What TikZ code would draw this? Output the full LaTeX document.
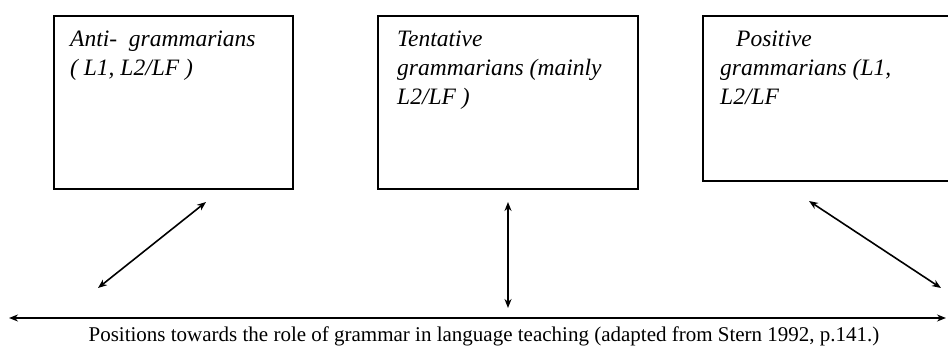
\documentclass[tikz,border=0pt]{standalone}
\usepackage{fontspec}
\setmainfont{Liberation Serif}
\usetikzlibrary{arrows.meta}

\tikzset{
  panel/.style={draw,line width=1.6pt,inner sep=0pt,anchor=north west},
  paneltext/.style={anchor=north west,align=left,inner sep=0pt,
    font=\fontsize{23.5}{29}\selectfont\itshape},
  link/.style={line width=1.6pt,{Stealth[length=9pt,width=7pt]}-{Stealth[length=9pt,width=7pt]}}
}

\begin{document}
\begin{tikzpicture}[x=1pt,y=-1pt]
\useasboundingbox (0,0) rectangle (948,347);
% the three boxes
\node[panel,minimum width=239pt,minimum height=173pt] (anti) at (53,15) {};
\node[panel,minimum width=260pt,minimum height=173pt] (tent) at (377,15) {};
\node[panel,minimum width=252pt,minimum height=165pt] (posi) at (702,15) {};
\node[paneltext] (antitext) at (70,31) {Anti-\ \ grammarians\\( L1, L2/LF )};
\node[paneltext] (tenttext) at (397,31) {Tentative\\grammarians (mainly\\L2/LF )};
\node[paneltext] (positext) at (720,31) {\hspace{16pt}Positive\\grammarians (L1,\\L2/LF};
% ends of the arrows
\coordinate (a1) at (98,288);
\coordinate (a2) at (206,202);
\coordinate (b1) at (508,202);
\coordinate (b2) at (508,308);
\coordinate (c1) at (809,201);
\coordinate (c2) at (941,288);
\coordinate (left) at (9,318);
\coordinate (right) at (946,318);
\draw[link] (a1) -- (a2);
\draw[link] (b1) -- (b2);
\draw[link] (c1) -- (c2);
\draw[link] (left) -- (right);
\node[font=\fontsize{21}{24}\selectfont] (caption) at (484,336)
  {Positions towards the role of grammar in language teaching (adapted from Stern 1992, p.141.)};
\end{tikzpicture}
\end{document}
